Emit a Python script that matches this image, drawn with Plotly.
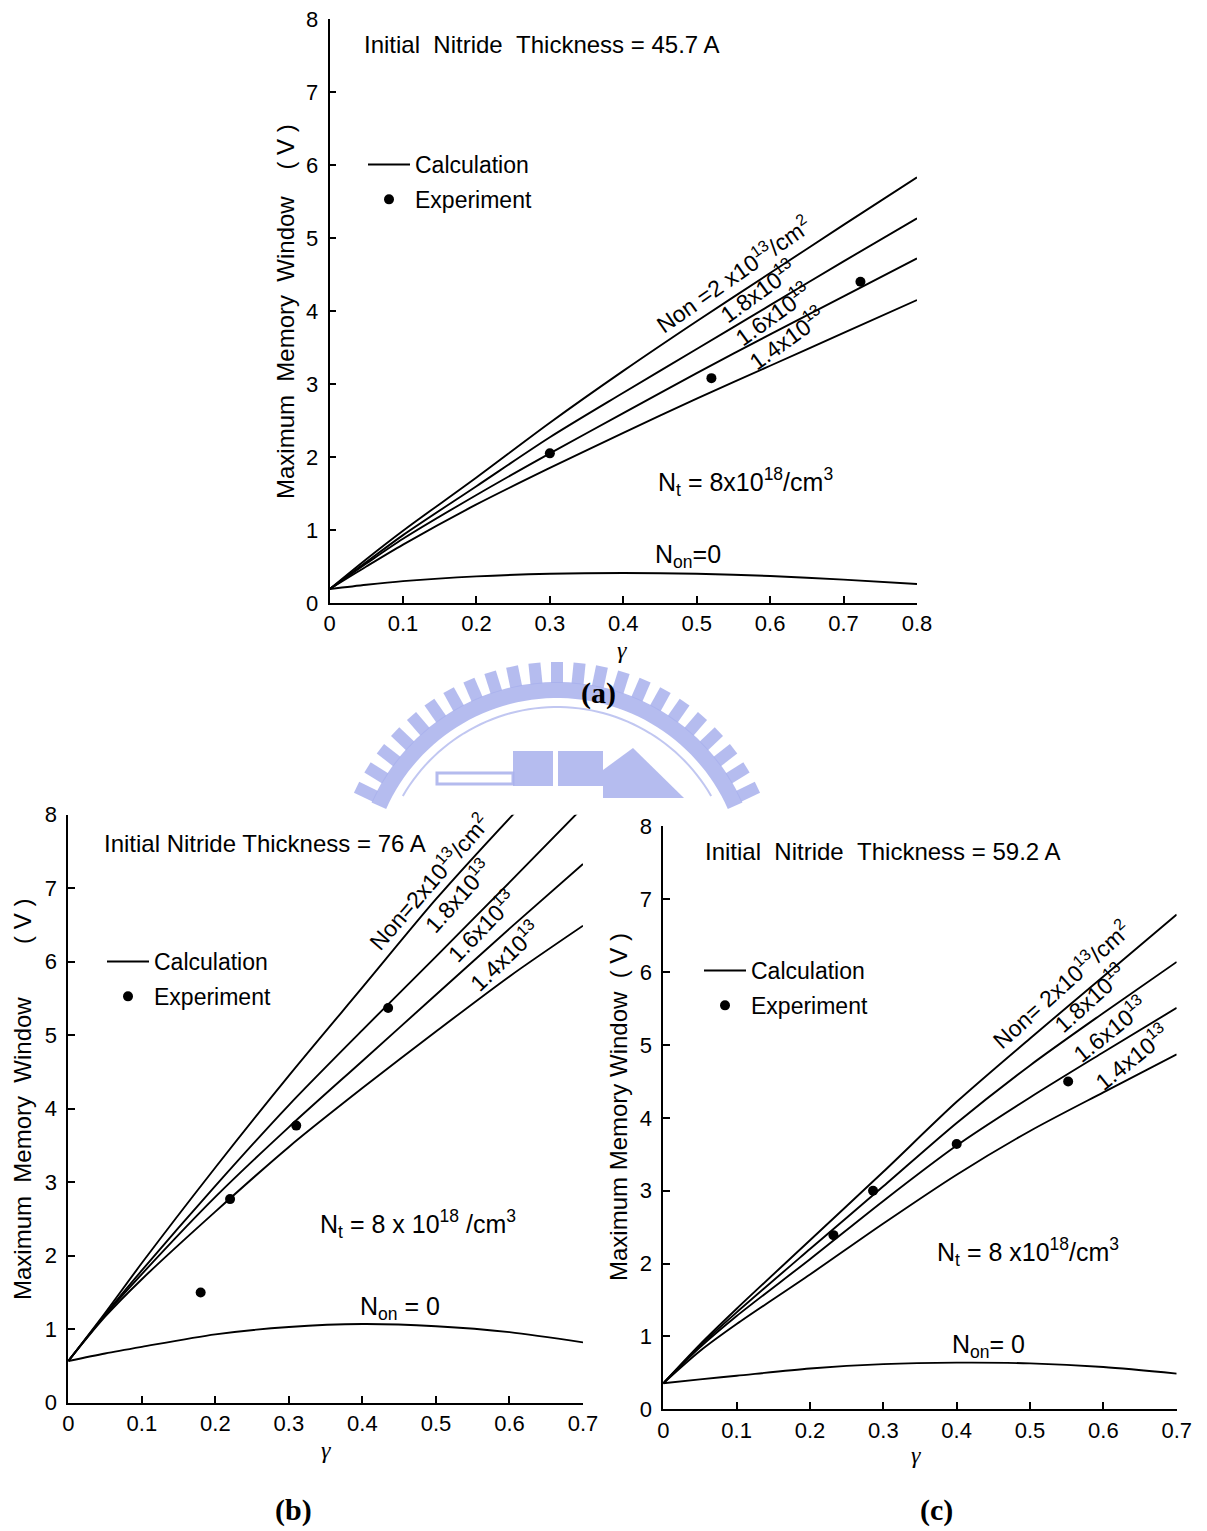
import numpy as np
import plotly.graph_objects as go

W, H = 1207, 1531

# ---------------- data ----------------
# panel (a): initial nitride thickness 45.7 A
xa = [0, 0.05, 0.1, 0.2, 0.3, 0.4, 0.5, 0.6, 0.7, 0.8]
a_20 = [0.19, 0.60, 0.99, 1.72, 2.47, 3.18, 3.86, 4.52, 5.18, 5.83]
a_18 = [0.19, 0.56, 0.93, 1.60, 2.27, 2.88, 3.48, 4.08, 4.68, 5.27]
a_16 = [0.19, 0.54, 0.88, 1.48, 2.05, 2.60, 3.15, 3.68, 4.20, 4.72]
a_14 = [0.19, 0.50, 0.80, 1.35, 1.85, 2.33, 2.80, 3.25, 3.70, 4.15]
a_00 = [0.19, 0.25, 0.30, 0.365, 0.40, 0.41, 0.40, 0.37, 0.32, 0.26]
exp_a_x = [0.30, 0.52, 0.723]
exp_a_y = [2.05, 3.08, 4.40]

# panel (b): initial nitride thickness 76 A
xb = [0, 0.05, 0.1, 0.2, 0.3, 0.4, 0.5, 0.6, 0.7]
b_20 = [0.567, 1.22, 1.90, 3.20, 4.45, 5.65, 6.85, 7.95, 9.00]
b_18 = [0.567, 1.20, 1.80, 2.95, 4.05, 5.07, 6.07, 7.08, 8.10]
b_16 = [0.567, 1.19, 1.75, 2.80, 3.75, 4.65, 5.55, 6.45, 7.33]
b_14 = [0.567, 1.17, 1.68, 2.60, 3.48, 4.28, 5.05, 5.80, 6.49]
b_00 = [0.567, 0.67, 0.76, 0.93, 1.03, 1.07, 1.04, 0.96, 0.82]
exp_b_x = [0.18, 0.22, 0.31, 0.435]
exp_b_y = [1.50, 2.77, 3.77, 5.37]

# panel (c): initial nitride thickness 59.2 A
xc = [0, 0.05, 0.1, 0.2, 0.3, 0.4, 0.5, 0.6, 0.7]
c_20 = [0.357, 0.89, 1.38, 2.32, 3.26, 4.22, 5.09, 5.94, 6.79]
c_18 = [0.357, 0.87, 1.33, 2.20, 3.06, 3.93, 4.72, 5.44, 6.14]
c_16 = [0.357, 0.85, 1.28, 2.06, 2.86, 3.62, 4.28, 4.90, 5.51]
c_14 = [0.357, 0.80, 1.17, 1.85, 2.55, 3.22, 3.82, 4.35, 4.87]
c_00 = [0.357, 0.41, 0.46, 0.56, 0.62, 0.64, 0.63, 0.58, 0.49]
exp_c_x = [0.232, 0.286, 0.40, 0.552]
exp_c_y = [2.39, 3.00, 3.64, 4.50]

x_ticks_a = [0, 0.1, 0.2, 0.3, 0.4, 0.5, 0.6, 0.7, 0.8]
x_ticks_bc = [0, 0.1, 0.2, 0.3, 0.4, 0.5, 0.6, 0.7]
y_ticks = [0, 1, 2, 3, 4, 5, 6, 7, 8]


def px(x):
    return x / W


def py(y):
    return 1 - y / H


FONT = "Liberation Sans"
fig = go.Figure()

panels = [
    dict(xr="x", yr="y", x=xa, curves=[a_20, a_18, a_16, a_14, a_00],
         ex=exp_a_x, ey=exp_a_y, legend="legend"),
    dict(xr="x2", yr="y2", x=xb, curves=[b_20, b_18, b_16, b_14, b_00],
         ex=exp_b_x, ey=exp_b_y, legend="legend2"),
    dict(xr="x3", yr="y3", x=xc, curves=[c_20, c_18, c_16, c_14, c_00],
         ex=exp_c_x, ey=exp_c_y, legend="legend3"),
]

for p in panels:
    for i, yv in enumerate(p["curves"]):
        fig.add_trace(go.Scatter(
            x=p["x"], y=yv, mode="lines", xaxis=p["xr"], yaxis=p["yr"],
            line=dict(color="black", width=1.9, shape="spline", smoothing=0.8),
            name="Calculation", legendgroup="calc", showlegend=(i == 0),
            legend=p["legend"], hoverinfo="skip"))
    fig.add_trace(go.Scatter(
        x=p["ex"], y=p["ey"], mode="markers", xaxis=p["xr"], yaxis=p["yr"],
        marker=dict(color="black", size=10), name="Experiment",
        legendgroup="exp", showlegend=True, legend=p["legend"]))

axis_common = dict(showline=True, linecolor="black", linewidth=1.7,
                   ticks="inside", ticklen=7, tickwidth=1.5, tickcolor="black",
                   showgrid=False, zeroline=False, automargin=False,
                   tickfont=dict(family=FONT, size=22, color="black"))

def xax(dom, rng, ticks, anchor):
    return dict(domain=dom, range=rng, tickvals=ticks,
                ticktext=[("0" if t == 0 else f"{t:.1f}") for t in ticks],
                anchor=anchor, **axis_common)

def yax(dom, anchor):
    return dict(domain=dom, range=[0, 8], tickvals=y_ticks,
                ticktext=[str(t) for t in y_ticks], anchor=anchor,
                ticklabelstandoff=5, **axis_common)

layout = dict(
    width=W, height=H, margin=dict(l=0, r=0, t=0, b=0, autoexpand=False),
    paper_bgcolor="white", plot_bgcolor="rgba(0,0,0,0)",
    xaxis=xax([px(329.6), px(917)], [0, 0.8], x_ticks_a, "y"),
    yaxis=yax([py(603), py(19)], "x"),
    xaxis2=xax([px(68.3), px(583)], [0, 0.7], x_ticks_bc, "y2"),
    yaxis2=yax([py(1402.7), py(814.7)], "x2"),
    xaxis3=xax([px(663.3), px(1176.7)], [0, 0.7], x_ticks_bc, "y3"),
    yaxis3=yax([py(1409.3), py(826.4)], "x3"),
)

leg_common = dict(bgcolor="rgba(0,0,0,0)", font=dict(family=FONT, size=23, color="black"),
                  xanchor="left", yanchor="top", itemwidth=42, tracegroupgap=2,
                  traceorder="grouped")
layout["legend"] = dict(x=px(363), y=py(143), **leg_common)
layout["legend2"] = dict(x=px(102), y=py(940), **leg_common)
layout["legend3"] = dict(x=px(699), y=py(949), **leg_common)
fig.update_layout(**layout)

# ---------------- annotations ----------------
anns = []

def ann(text, x, y, size=23, angle=0, family=FONT, **kw):
    anns.append(dict(text=text, x=px(x), y=py(y), xref="paper", yref="paper",
                     showarrow=False, textangle=angle, xanchor="center", yanchor="middle",
                     font=dict(family=family, size=size, color="black"), **kw))

NB = "\u00a0"
S2 = " " + NB
# panel (a)
ann("Initial" + S2 + "Nitride" + S2 + "Thickness = 45.7 A", 542, 45, size=24)
ann("N<sub>t</sub> = 8x10<sup>18</sup>/cm<sup>3</sup>", 745, 482, size=25)
ann("N<sub>on</sub>=0", 688, 556, size=25)
ann("Non =2 x10<sup>13</sup>/cm<sup>2</sup>", 733, 274, size=23, angle=-35)
ann("1.8x10<sup>13</sup>", 757, 291, size=23, angle=-36)
ann("1.6x10<sup>13</sup>", 772, 314, size=23, angle=-36)
ann("1.4x10<sup>13</sup>", 786, 338, size=23, angle=-36)
ann("Maximum" + S2 + "Memory" + S2 + "Window" + NB * 4 + "( V )", 285, 312, size=24, angle=-90)
ann("<i>γ</i>", 622, 650, size=24, family="Liberation Serif")
ann("<b>(a)</b>", 598, 693, size=30, family="Liberation Serif")

# panel (b)
ann("Initial Nitride Thickness = 76 A", 265, 843, size=24)
ann("N<sub>t</sub> = 8 x 10<sup>18</sup> /cm<sup>3</sup>", 418, 1224, size=25)
ann("N<sub>on</sub> = 0", 400, 1308, size=25)
ann("Non=2x10<sup>13</sup>/cm<sup>2</sup>", 428, 882, size=23, angle=-49)
ann("1.8x10<sup>13</sup>", 457, 896, size=23, angle=-48)
ann("1.6x10<sup>13</sup>", 481, 926, size=23, angle=-46)
ann("1.4x10<sup>13</sup>", 504, 956, size=23, angle=-44)
ann("Maximum" + S2 + "Memory" + S2 + "Window" + NB * 8 + "( V )", 22, 1100, size=24, angle=-90)
ann("<i>γ</i>", 326, 1450, size=24, family="Liberation Serif")
ann("<b>(b)</b>", 293, 1510, size=30, family="Liberation Serif")

# panel (c)
ann("Initial" + S2 + "Nitride" + S2 + "Thickness = 59.2 A", 883, 852, size=24)
ann("N<sub>t</sub> = 8 x10<sup>18</sup>/cm<sup>3</sup>", 1028, 1252, size=25)
ann("N<sub>on</sub>= 0", 988, 1346, size=25)
ann("Non= 2x10<sup>13</sup>/cm<sup>2</sup>", 1061, 984, size=23, angle=-42)
ann("1.8x10<sup>13</sup>", 1089, 998, size=23, angle=-42)
ann("1.6x10<sup>13</sup>", 1109, 1029, size=23, angle=-39)
ann("1.4x10<sup>13</sup>", 1131, 1057, size=23, angle=-39)
ann("Maximum Memory Window" + NB * 2 + "( V )", 618, 1107, size=24, angle=-90)
ann("<i>γ</i>", 916, 1455, size=24, family="Liberation Serif")
ann("<b>(c)</b>", 936, 1510, size=30, family="Liberation Serif")

fig.update_layout(annotations=anns)

# ---------------- watermark logo (decoration) ----------------
LOGO = "rgb(168,176,236)"
cx, cy = 557, 885

def pt(r, th):
    t = np.radians(th)
    return cx + r * np.cos(t), cy - r * np.sin(t)

def path_from(points, close=True):
    s = "M " + " L ".join(f"{px(x):.5f},{py(y):.5f}" for x, y in points)
    return s + (" Z" if close else "")

shapes = []
# teeth
for th in np.linspace(26, 154, 23):
    t = np.radians(th)
    d = np.array([np.cos(t), -np.sin(t)])
    n = np.array([np.sin(t), np.cos(t)])
    c = np.array([cx, cy])
    hw = 6
    pts = [c + 202 * d + hw * n, c + 223 * d + hw * n, c + 223 * d - hw * n, c + 202 * d - hw * n]
    shapes.append(dict(type="path", path=path_from(pts), xref="paper", yref="paper",
                       fillcolor=LOGO, line=dict(width=0), layer="below", opacity=0.85))
# band
ths = np.linspace(24, 156, 60)
band = [pt(203, a) for a in ths] + [pt(187, a) for a in ths[::-1]]
shapes.append(dict(type="path", path=path_from(band), xref="paper", yref="paper",
                   fillcolor=LOGO, line=dict(width=0), layer="below", opacity=0.85))
# thin inner arc
ths2 = np.linspace(30, 150, 60)
shapes.append(dict(type="path", path=path_from([pt(178, a) for a in ths2], close=False),
                   xref="paper", yref="paper", line=dict(color=LOGO, width=2), layer="below",
                   opacity=0.7))
# bottom blocks
shapes.append(dict(type="rect", x0=px(437), x1=px(513), y0=py(784), y1=py(773),
                   xref="paper", yref="paper", line=dict(color=LOGO, width=3), layer="below",
                   opacity=0.85))
shapes.append(dict(type="rect", x0=px(513), x1=px(553), y0=py(786), y1=py(751),
                   xref="paper", yref="paper", fillcolor=LOGO, line=dict(width=0), layer="below",
                   opacity=0.85))
shapes.append(dict(type="rect", x0=px(558), x1=px(603), y0=py(786), y1=py(751),
                   xref="paper", yref="paper", fillcolor=LOGO, line=dict(width=0), layer="below",
                   opacity=0.85))
shapes.append(dict(type="path", path=path_from([(603, 798), (603, 770), (633, 748), (684, 798)]),
                   xref="paper", yref="paper", fillcolor=LOGO, line=dict(width=0), layer="below",
                   opacity=0.85))
fig.update_layout(shapes=shapes)

fig.write_html("out.html")
